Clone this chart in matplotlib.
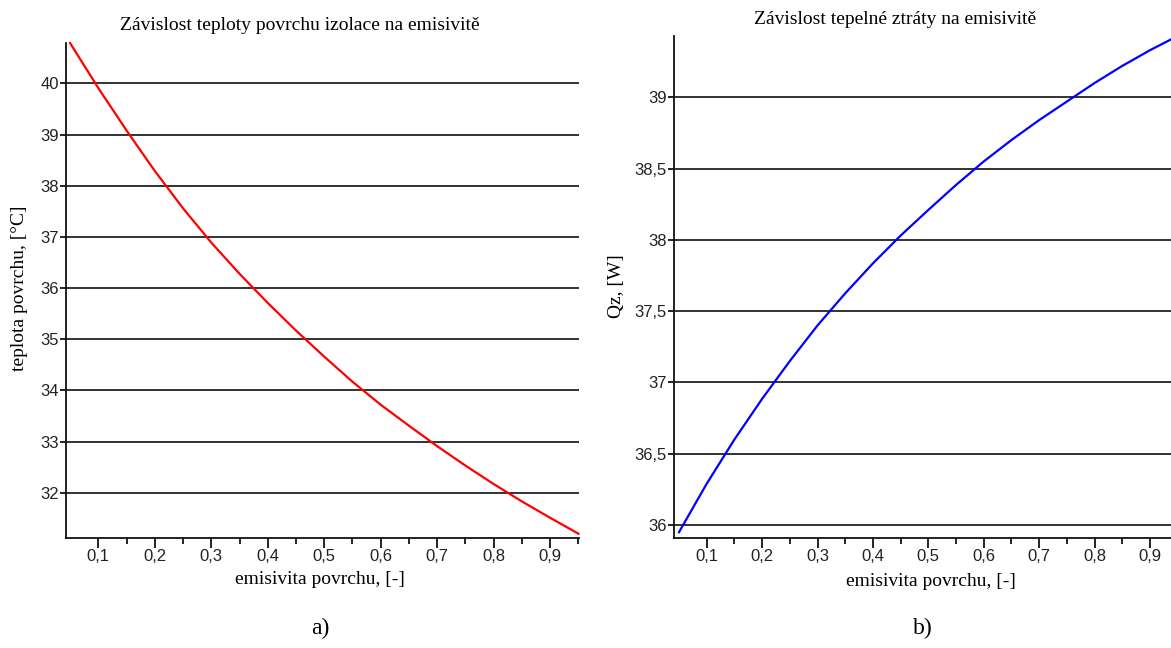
import matplotlib
matplotlib.use("Agg")
import matplotlib.pyplot as plt
from matplotlib.ticker import FixedLocator

# ---- data ----
emis = [0.05, 0.10, 0.15, 0.20, 0.25, 0.30, 0.35, 0.40, 0.45, 0.50,
        0.55, 0.60, 0.65, 0.70, 0.75, 0.80, 0.85, 0.90, 0.95]
teplota = [40.79, 39.91, 39.08, 38.29, 37.56, 36.89, 36.28, 35.71, 35.17, 34.66,
           34.17, 33.72, 33.31, 32.91, 32.53, 32.17, 31.83, 31.51, 31.20]
qz = [35.95, 36.29, 36.60, 36.885, 37.15, 37.40, 37.625, 37.835, 38.03, 38.21,
      38.385, 38.55, 38.70, 38.84, 38.97, 39.10, 39.22, 39.33, 39.43]

x_ticks = [0.1, 0.2, 0.3, 0.4, 0.5, 0.6, 0.7, 0.8, 0.9]
x_minor_ticks = [0.15, 0.25, 0.35, 0.45, 0.55, 0.65, 0.75, 0.85, 0.95]
x_ticklabels = ["0,1", "0,2", "0,3", "0,4", "0,5", "0,6", "0,7", "0,8", "0,9"]
a_yticks = [32, 33, 34, 35, 36, 37, 38, 39, 40]
a_yticklabels = ["32", "33", "34", "35", "36", "37", "38", "39", "40"]
b_yticks = [36.0, 36.5, 37.0, 37.5, 38.0, 38.5, 39.0]
b_yticklabels = ["36", "36,5", "37", "37,5", "38", "38,5", "39"]

title_a = "Závislost teploty povrchu izolace na emisivitě"
title_b = "Závislost tepelné ztráty na emisivitě"
xlabel = "emisivita povrchu, [-]"
ylabel_a = "teplota povrchu, [°C]"
ylabel_b = "Qz, [W]"

W, H = 1171, 648
fig = plt.figure(figsize=(W / 100, H / 100), dpi=100)
fig.patch.set_facecolor("white")

SERIF = "Liberation Serif"
SANS = "Liberation Sans"
TXT = 14


def px_axes(l, r, t, b):
    return fig.add_axes([l / W, 1 - b / H, (r - l) / W, (b - t) / H])


def style(ax, xlim, ylim, yticks, yticklabels):
    ax.set_xlim(*xlim)
    ax.set_ylim(*ylim)
    for s in ("top", "right"):
        ax.spines[s].set_visible(False)
    for s in ("left", "bottom"):
        ax.spines[s].set_linewidth(1.3)
        ax.spines[s].set_color("#111111")
    ax.set_xticks(x_ticks)
    ax.set_xticklabels(x_ticklabels, fontfamily=SANS, fontsize=12, color="#222222")
    ax.xaxis.set_minor_locator(FixedLocator(x_minor_ticks))
    ax.set_yticks(yticks)
    ax.set_yticklabels(yticklabels, fontfamily=SANS, fontsize=12, color="#222222")
    ax.tick_params(axis="x", which="major", length=7, width=1.3, direction="out",
                   pad=1, color="#111111")
    ax.tick_params(axis="x", which="minor", length=4, width=1.3, direction="out",
                   color="#111111")
    ax.tick_params(axis="y", which="major", length=4, width=1.3, direction="out",
                   pad=1, color="#111111")
    ax.grid(axis="y", color="#222222", linewidth=1.3)
    ax.set_axisbelow(True)


# ---- panel a ----
axa = px_axes(65.7, 579, 43, 538.3)
style(axa, (0.0423, 0.951), (31.11, 40.79), a_yticks, a_yticklabels)
axa.plot(emis, teplota, color="#ff0000", linewidth=1.6, clip_on=False, zorder=3)
fig.text(300 / W, 1 - 26 / H, title_a, ha="center", va="center",
         fontfamily=SERIF, fontsize=TXT)
fig.text(320 / W, 1 - 580 / H, xlabel, ha="center", va="center",
         fontfamily=SERIF, fontsize=TXT)
fig.text(20 / W, 1 - 288 / H, ylabel_a, ha="center", va="center", rotation=90,
         fontfamily=SERIF, fontsize=TXT)
fig.text(320 / W, 1 - 628 / H, "a)", ha="center", va="center",
         fontfamily=SERIF, fontsize=17)

# ---- panel b ----
axb = px_axes(673.7, 1177.6, 36, 538.3)
style(axb, (0.0404, 0.95), (35.907, 39.43), b_yticks, b_yticklabels)
axb.plot(emis, qz, color="#0000ff", linewidth=1.6, clip_on=False, zorder=3)
fig.text(895 / W, 1 - 20 / H, title_b, ha="center", va="center",
         fontfamily=SERIF, fontsize=TXT)
fig.text(931 / W, 1 - 582 / H, xlabel, ha="center", va="center",
         fontfamily=SERIF, fontsize=TXT)
fig.text(616 / W, 1 - 286 / H, ylabel_b, ha="center", va="center", rotation=90,
         fontfamily=SERIF, fontsize=TXT)
fig.text(923 / W, 1 - 628 / H, "b)", ha="center", va="center",
         fontfamily=SERIF, fontsize=17)

fig.savefig("out.png", dpi=100, facecolor="white")
